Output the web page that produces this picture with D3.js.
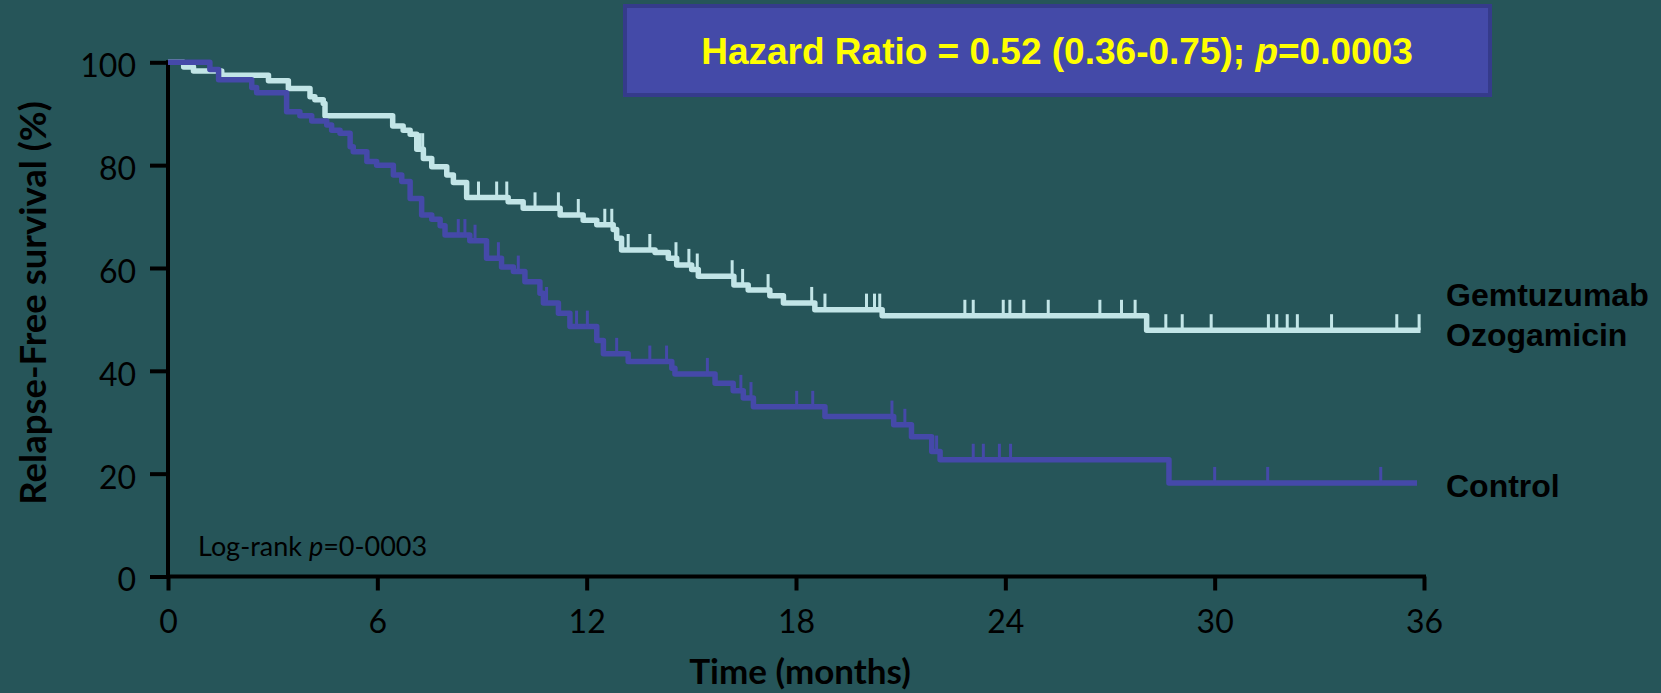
<!DOCTYPE html>
<html>
<head>
<meta charset="utf-8">
<script src="https://cdn.jsdelivr.net/npm/d3@7"></script>
<style>
  html, body { margin: 0; padding: 0; background: #265559; }
  svg { display: block; }
</style>
</head>
<body>
<div id="chart"></div>
<script>
// Kaplan-Meier steps: time (months) where the curve drops, and survival (%) after the drop
const goTimes = [0, 0.45, 0.73, 1.54, 2.88, 3.45, 4.07, 4.21, 4.45, 4.5, 6.44, 6.74, 6.94, 7.13, 7.32, 7.56, 7.99, 8.18, 8.56,
  9.75, 10.18, 11.24, 11.9, 12.29, 12.76, 12.86, 13.0, 13.96, 14.34, 14.58, 15.01, 15.2, 16.22, 16.63, 17.25, 17.64, 18.54, 20.47, 28.05];
const goSurv = [100, 99.1, 98.3, 97.5, 96.4, 94.9, 93.3, 92.7, 92.0, 89.6, 87.6, 86.8, 86.0, 83.1, 81.3, 79.7, 78.1, 76.6, 73.7,
  72.9, 71.6, 70.3, 69.3, 68.4, 67.5, 65.8, 63.5, 63.0, 61.9, 60.6, 59.7, 58.4, 56.7, 55.7, 54.6, 53.2, 51.9, 50.7, 47.9];
const goEnd = 35.9;
const goCensor = [7.22, 7.3, 8.9, 9.42, 9.71, 10.52, 11.19, 11.76, 12.52, 12.72, 13.19, 13.81, 14.56, 14.93, 15.17, 16.17, 16.47,
  17.2, 18.45, 18.83, 20.02, 20.25, 20.4, 22.84, 23.08, 23.94, 24.13, 24.53, 25.23, 26.71, 27.33, 27.72, 28.6, 29.07, 29.9,
  31.54, 31.78, 32.08, 32.37, 33.35, 35.22, 35.86];

const ctrlTimes = [0, 1.2, 1.45, 2.4, 2.54, 3.4, 3.78, 4.12, 4.55, 4.69, 4.93, 5.22, 5.31, 5.7, 5.98, 6.46, 6.7, 6.94, 7.27, 7.56,
  7.8, 7.94, 8.65, 9.13, 9.56, 9.9, 10.23, 10.66, 10.76, 11.19, 11.52, 12.29, 12.48, 13.19, 14.44, 14.53, 15.68, 16.2, 16.49,
  16.78, 18.83, 20.8, 21.31, 21.89, 22.13, 28.69];
const ctrlSurv = [100, 98.6, 96.6, 95.1, 94.1, 90.4, 89.6, 88.6, 87.8, 86.8, 86.2, 83.6, 82.6, 80.7, 80.0, 78.1, 76.8, 73.5, 70.3, 69.5,
  68.2, 66.4, 65.3, 61.9, 60.2, 59.3, 57.3, 55.1, 53.2, 51.2, 48.6, 45.9, 43.3, 41.8, 40.5, 39.4, 37.6, 36.1, 34.7,
  33.0, 31.1, 29.5, 27.2, 24.3, 22.7, 18.2];
const ctrlEnd = 35.8;
const ctrlCensor = [8.32, 8.51, 8.8, 9.47, 10.04, 10.85, 11.71, 12.02, 12.86, 13.81, 14.29, 15.46, 16.42, 16.71, 18.02, 18.48,
  20.75, 21.12, 22.03, 23.08, 23.37, 23.83, 24.15, 30.0, 31.52, 34.76];

const xTicks = [0, 6, 12, 18, 24, 30, 36];
const yTicks = [0, 20, 40, 60, 80, 100];

const width = 1661, height = 693;
const colors = { bg: '#265559', go: '#c2e5e7', ctrl: '#4549a9', box: '#444aa8', boxEdge: '#353b8b' };

const svg = d3.select('#chart').append('svg')
  .attr('width', width)
  .attr('height', height);

svg.append('rect').attr('width', width).attr('height', height).attr('fill', colors.bg);

const x = d3.scaleLinear().domain([0, 36]).range([168, 1424]);
const y = d3.scaleLinear().domain([0, 100]).range([576.5, 62.3]);

// axes
const xAxis = svg.append('g')
  .attr('transform', `translate(0, ${y(0)})`)
  .call(d3.axisBottom(x).tickValues(xTicks).tickSize(14).tickPadding(20).tickSizeOuter(0));
const yAxis = svg.append('g')
  .attr('transform', `translate(${x(0)}, 0)`)
  .call(d3.axisLeft(y).tickValues(yTicks).tickSize(18).tickPadding(14).tickSizeOuter(0));

[xAxis, yAxis].forEach(g => {
  g.select('.domain').attr('stroke', '#000').attr('stroke-width', 4);
  g.selectAll('.tick line').attr('stroke', '#000').attr('stroke-width', 4);
  g.selectAll('.tick text')
    .attr('fill', '#000')
    .style('font-family', 'Lato, sans-serif')
    .style('font-size', '32px');
});
xAxis.select('.domain').attr('d', `M${x(0) - 2},0H${x(36) + 2}`);
yAxis.select('.domain').attr('d', `M0,${y(100) - 2}V${y(0) + 2}`);
yAxis.selectAll('.tick text').attr('dy', '0.45em');

// survival curves
const line = d3.line()
  .x(d => x(d[0]))
  .y(d => y(d[1]))
  .curve(d3.curveStepAfter);

function curve(times, surv, end, censor, color) {
  const pts = times.map((t, i) => [t, surv[i]]);
  pts.push([end, surv[surv.length - 1]]);
  svg.append('path')
    .datum(pts)
    .attr('fill', 'none')
    .attr('stroke', color)
    .attr('stroke-width', 5.5)
    .attr('stroke-linejoin', 'round')
    .attr('d', line);

  const survAt = t => surv[d3.bisectRight(times, t) - 1];
  svg.append('g').selectAll('line')
    .data(censor)
    .join('line')
    .attr('x1', d => x(d))
    .attr('x2', d => x(d))
    .attr('y1', d => y(survAt(d)))
    .attr('y2', d => y(survAt(d)) - 16)
    .attr('stroke', color)
    .attr('stroke-width', 3);
}

curve(goTimes, goSurv, goEnd, goCensor, colors.go);
curve(ctrlTimes, ctrlSurv, ctrlEnd, ctrlCensor, colors.ctrl);

// axis titles
svg.append('text')
  .attr('x', 800)
  .attr('y', 684)
  .attr('text-anchor', 'middle')
  .style('font-family', 'Lato, sans-serif')
  .style('font-weight', 'bold')
  .style('font-size', '35px')
  .text('Time (months)');

svg.append('text')
  .attr('transform', 'translate(46, 303) rotate(-90)')
  .attr('text-anchor', 'middle')
  .style('font-family', 'Lato, sans-serif')
  .style('font-weight', 'bold')
  .style('font-size', '36.5px')
  .text('Relapse-Free survival (%)');

// log-rank note
const note = svg.append('text')
  .attr('x', 198)
  .attr('y', 556)
  .style('font-family', 'Lato, sans-serif')
  .style('font-size', '27px');
note.append('tspan').text('Log-rank ');
note.append('tspan').style('font-style', 'italic').text('p');
note.append('tspan').text('=0-0003');

// group labels
const labels = [
  { text: 'Gemtuzumab', y: 306 },
  { text: 'Ozogamicin', y: 346 },
  { text: 'Control', y: 497 }
];
svg.append('g').selectAll('text')
  .data(labels)
  .join('text')
  .attr('x', 1446)
  .attr('y', d => d.y)
  .style('font-family', '"Liberation Sans", Arial, sans-serif')
  .style('font-weight', 'bold')
  .style('font-size', '32px')
  .attr('fill', '#000')
  .text(d => d.text);

// hazard ratio box
svg.append('rect')
  .attr('x', 625)
  .attr('y', 6)
  .attr('width', 865)
  .attr('height', 89)
  .attr('fill', colors.box)
  .attr('stroke', colors.boxEdge)
  .attr('stroke-width', 4);

const hr = svg.append('text')
  .attr('x', 1057)
  .attr('y', 64)
  .attr('text-anchor', 'middle')
  .attr('fill', '#ffff00')
  .style('font-family', '"Liberation Sans", Arial, sans-serif')
  .style('font-weight', 'bold')
  .style('font-size', '37px');
hr.append('tspan').text('Hazard Ratio = 0.52 (0.36-0.75); ');
hr.append('tspan').style('font-style', 'italic').text('p');
hr.append('tspan').text('=0.0003');
</script>
</body>
</html>
